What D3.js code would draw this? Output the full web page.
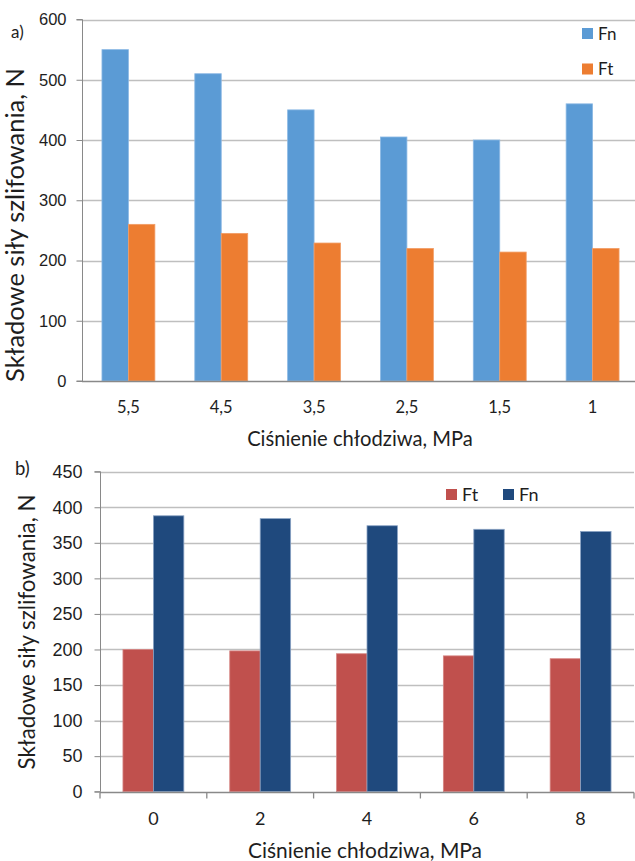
<!DOCTYPE html>
<html>
<head>
<meta charset="utf-8">
<script src="https://cdn.jsdelivr.net/npm/d3@7"></script>
<style>
  html, body { margin: 0; padding: 0; background: #fff; }
  svg { display: block; font-family: Lato, "Open Sans", sans-serif; }
</style>
</head>
<body>
<svg id="chart" width="635" height="861"></svg>
<script>
// Panel a) — force components vs coolant pressure
const catsA = ["5,5", "4,5", "3,5", "2,5", "1,5", "1"];
const fnA = [550, 510, 450, 405, 400, 460];
const ftA = [260, 245, 229, 220, 214, 220];
const ticksA = [0, 100, 200, 300, 400, 500, 600];

// Panel b)
const catsB = ["0", "2", "4", "6", "8"];
const ftB = [200, 198, 194, 191, 187];
const fnB = [388, 384, 374, 369, 366];
const ticksB = [0, 50, 100, 150, 200, 250, 300, 350, 400, 450];

const yTitle = "Składowe siły szlifowania, N";
const xTitle = "Ciśnienie chłodziwa, MPa";

const svg = d3.select("#chart");
const textColor = "#1e1e1e";
const gridColor = "#bfbfbf";
const axisColor = "#898989";

// scale a text's font so that it spans the given length
function fitLength(sel, len, base) {
  sel.style("font-size", base + "px");
  const w = sel.node().getComputedTextLength();
  if (w > 0) sel.style("font-size", (base * len / w).toFixed(2) + "px");
}

function panel(o) {
  const g = svg.append("g");
  const y = d3.scaleLinear().domain([0, o.yMax]).range([o.bottom, o.top]);
  const x = d3.scaleBand().domain(o.cats).range([o.left, o.right])
    .paddingInner(0.43).paddingOuter(0.215);
  const xs = d3.scaleBand().domain(o.series.map(s => s.name)).range([0, x.bandwidth()]);

  // gridlines
  g.append("g").selectAll("line").data(o.ticks.filter(t => t > 0)).join("line")
    .attr("x1", o.left).attr("x2", o.right)
    .attr("y1", d => Math.round(y(d)) + 0.5).attr("y2", d => Math.round(y(d)) + 0.5)
    .attr("stroke", gridColor).attr("stroke-width", 1.3);

  // bars
  o.series.forEach(s => {
    g.append("g").selectAll("rect").data(s.values).join("rect")
      .attr("x", (d, i) => x(o.cats[i]) + xs(s.name))
      .attr("y", d => y(d))
      .attr("width", xs.bandwidth())
      .attr("height", d => y(0) - y(d))
      .attr("fill", s.color)
      .attr("stroke", s.edge).attr("stroke-width", 0.8);
  });

  // y axis
  const yAxis = d3.axisLeft(y).tickValues(o.ticks).tickSize(6).tickPadding(o.tickPad)
    .tickFormat(d3.format("d"));
  const ya = g.append("g").attr("transform", `translate(${o.left + 0.5},0)`).call(yAxis);
  ya.select(".domain").attr("stroke", axisColor).attr("d", `M-6,${y(0)}H0V${y(o.yMax)}H-6`);
  ya.selectAll(".tick line").attr("stroke", axisColor);
  ya.selectAll(".tick text").attr("fill", textColor).style("font-size", o.tickFont + "px");

  // x axis
  const xa = g.append("g").attr("transform", `translate(0,${Math.round(y(0)) + 0.5})`);
  xa.append("line").attr("x1", o.left).attr("x2", o.right)
    .attr("stroke", axisColor).attr("stroke-width", 1.3);
  if (o.xTicks) {
    const bounds = d3.range(o.cats.length + 1).map(i => o.left + i * x.step());
    xa.selectAll("line.tk").data(bounds).join("line").attr("class", "tk")
      .attr("x1", d => d).attr("x2", d => d).attr("y1", 0).attr("y2", 6)
      .attr("stroke", axisColor).attr("stroke-width", 1.3);
  }
  xa.selectAll("text").data(o.cats).join("text")
    .attr("x", d => x(d) + x.bandwidth() / 2)
    .attr("y", o.xLabelDy)
    .attr("text-anchor", "middle").attr("fill", textColor)
    .style("font-size", o.tickFont + "px").text(d => d);

  // axis titles
  const xt = g.append("text").attr("x", o.xTitleX).attr("y", o.xTitleY)
    .attr("text-anchor", "middle").attr("fill", textColor).text(xTitle);
  fitLength(xt, o.xTitleLen, 20);
  const yt = g.append("text")
    .attr("transform", `translate(${o.yTitleX},${o.yTitleY}) rotate(-90)`)
    .attr("text-anchor", "middle").attr("fill", textColor).text(yTitle);
  fitLength(yt, o.yTitleLen, 20);

  // panel letter
  g.append("text").attr("x", o.letterX).attr("y", o.letterY).attr("fill", textColor)
    .style("font-size", o.letterFont + "px").text(o.letter);

  // legend
  o.legend.forEach(l => {
    const s = o.series.find(v => v.name === l.name);
    g.append("rect").attr("x", l.x).attr("y", l.y).attr("width", 11).attr("height", 11)
      .attr("fill", s.color);
    g.append("text").attr("x", l.x + 16).attr("y", l.y + 11.5).attr("fill", textColor)
      .style("font-size", o.legendFont + "px").text(s.name);
  });
}

panel({
  cats: catsA, ticks: ticksA, yMax: 600,
  top: 19.5, bottom: 381, left: 82, right: 639,
  series: [
    { name: "Fn", values: fnA, color: "#5b9bd5", edge: "#8cb9e4" },
    { name: "Ft", values: ftA, color: "#ed7d31", edge: "#f29d66" }
  ],
  tickFont: 16.5, tickPad: 10, xLabelDy: 31, xTicks: false,
  xTitleX: 360, xTitleY: 445.5, xTitleLen: 226,
  yTitleX: 24, yTitleY: 225, yTitleLen: 314,
  letter: "a)", letterX: 11, letterY: 38, letterFont: 17,
  legendFont: 17,
  legend: [{ name: "Fn", x: 582, y: 28 }, { name: "Ft", x: 582, y: 63.5 }]
});

panel({
  cats: catsB, ticks: ticksB, yMax: 450,
  top: 471.7, bottom: 791.7, left: 100, right: 634,
  series: [
    { name: "Ft", values: ftB, color: "#c0504d", edge: "#d58482" },
    { name: "Fn", values: fnB, color: "#1f497d", edge: "#8aa3c4" }
  ],
  tickFont: 18, tickPad: 12, xLabelDy: 32.5, xTicks: true,
  xTitleX: 365, xTitleY: 857.5, xTitleLen: 234,
  yTitleX: 35, yTitleY: 632, yTitleLen: 275,
  letter: "b)", letterX: 15, letterY: 475, letterFont: 18.5,
  legendFont: 18,
  legend: [{ name: "Ft", x: 446, y: 489 }, { name: "Fn", x: 503, y: 489 }]
});
</script>
</body>
</html>
